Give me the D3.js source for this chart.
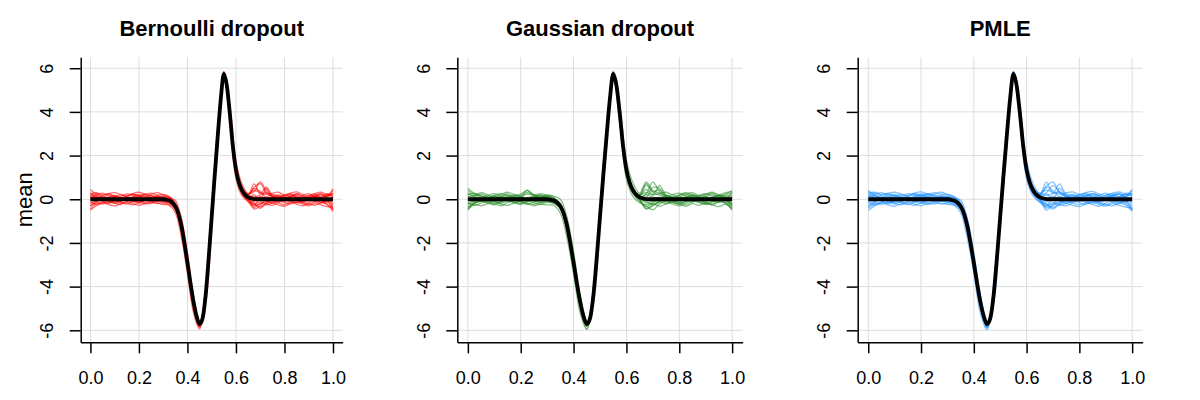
<!DOCTYPE html>
<html>
<head>
<meta charset="utf-8">
<script src="https://cdn.jsdelivr.net/npm/d3@7"></script>
<style>
  body { margin: 0; background: #fff; }
  svg { display: block; }
  text { font-family: "Liberation Sans", Arial, Helvetica, sans-serif; fill: #000; }
</style>
</head>
<body>
<svg id="chart" width="1200" height="400"></svg>
<script>
const xGrid = [0, 0.025, 0.05, 0.075, 0.1, 0.125, 0.15, 0.175, 0.2, 0.225, 0.25, 0.275, 0.3, 0.325, 0.35, 0.375, 0.4,
  0.425, 0.45, 0.475, 0.5, 0.525, 0.55, 0.575, 0.6, 0.625, 0.65, 0.675, 0.7, 0.725, 0.75, 0.775, 0.8, 0.825, 0.85,
  0.875, 0.9, 0.925, 0.95, 0.975, 1];

// black reference curve (same in all panels), finer in the middle
const truthX = [0, 0.3, 0.3125, 0.325, 0.3375, 0.35, 0.3625, 0.375, 0.3875, 0.4, 0.4125, 0.425, 0.4375, 0.45, 0.4625,
  0.475, 0.4875, 0.5, 0.5125, 0.525, 0.5375, 0.55, 0.5625, 0.575, 0.5875, 0.6, 0.6125, 0.625, 0.6375, 0.65, 0.6625,
  0.675, 0.7, 1];
const truthMean = [0, 0, -0.02, -0.06, -0.15, -0.32, -0.65, -1.2, -2.0, -2.9, -3.85, -4.7, -5.35, -5.72, -5.45,
  -4.4, -2.7, -0.8, 1.1, 2.9, 4.6, 5.74, 5.2, 3.9, 2.4, 1.35, 0.75, 0.4, 0.2, 0.09, 0.04,
  0.01, 0, 0];

const titles = ["Bernoulli dropout", "Gaussian dropout", "PMLE"];
const xTicks = [0, 0.2, 0.4, 0.6, 0.8, 1.0];
const xTickLabels = ["0.0", "0.2", "0.4", "0.6", "0.8", "1.0"];
const yTicks = [-6, -4, -2, 0, 2, 4, 6];
const yTickLabels = ["-6", "-4", "-2", "0", "2", "4", "6"];

const bernoulliSamples = [
  [0.30,0.12,0.05,0.10,0.18,0.08,0.02,0.10,0.15,0.05,0.08,0.14,0.06,-0.02,-0.28,-1.22,-2.86,-4.82,-5.85,-4.48,-0.88,2.84,5.82,3.96,1.38,0.48,0.22,0.55,0.72,0.28,0.12,0.16,0.06,0.10,0.18,0.08,0.04,0.12,0.20,0.14,0.42],
  [-0.45,-0.20,-0.12,-0.18,-0.08,-0.15,-0.22,-0.10,-0.05,-0.16,-0.20,-0.08,-0.12,-0.18,-0.42,-1.40,-3.00,-4.88,-5.78,-4.35,-0.72,2.98,5.70,3.82,1.22,0.30,-0.05,-0.30,-0.22,-0.10,-0.18,-0.06,-0.14,-0.20,-0.10,-0.16,-0.24,-0.12,-0.08,-0.22,-0.50],
  [0.10,0.20,0.28,0.15,0.05,0.12,0.25,0.18,0.06,0.14,0.22,0.30,0.20,0.10,-0.20,-1.15,-2.80,-4.72,-5.68,-4.42,-0.82,2.88,5.78,4.02,1.42,0.52,0.18,0.12,0.20,0.30,0.15,0.08,0.18,0.26,0.12,0.05,0.16,0.24,0.10,0.18,0.25],
  [-0.20,-0.05,0.05,-0.08,-0.15,-0.02,0.08,-0.04,-0.12,0.02,0.06,-0.06,-0.02,-0.10,-0.36,-1.32,-2.94,-4.84,-5.75,-4.38,-0.78,2.92,5.72,3.88,1.28,0.38,0.05,-0.45,-0.30,0.05,-0.06,0.04,-0.10,-0.02,0.06,-0.08,0.00,0.08,-0.06,0.04,-0.30],
  [0.45,0.22,0.10,0.02,0.10,0.20,0.12,0.04,0.10,0.22,0.15,0.05,0.10,0.06,-0.05,-0.85,-2.45,-4.40,-5.60,-4.75,-1.30,2.40,5.85,4.30,1.75,0.70,0.25,0.35,0.80,0.40,0.12,0.06,0.14,0.22,0.10,0.02,0.12,0.18,0.26,0.10,0.30],
  [-0.30,-0.15,-0.22,-0.10,-0.04,-0.12,-0.18,-0.26,-0.14,-0.06,-0.12,-0.20,-0.16,-0.26,-0.62,-1.75,-3.40,-5.20,-5.95,-4.00,-0.30,3.40,5.62,3.50,0.95,0.15,-0.10,-0.18,-0.35,-0.20,-0.10,-0.16,-0.24,-0.12,-0.06,-0.14,-0.20,-0.28,-0.16,-0.10,-0.45],
  [0.05,0.15,0.08,0.20,0.12,0.02,0.10,0.22,0.16,0.08,0.18,0.10,0.14,0.04,-0.22,-1.18,-2.84,-4.78,-5.74,-4.40,-0.80,2.90,5.80,3.98,1.36,0.46,0.20,0.70,0.25,0.55,0.18,0.10,0.20,0.12,0.24,0.16,0.08,0.14,0.06,0.20,0.10],
  [-0.10,-0.25,-0.14,-0.04,-0.16,-0.24,-0.10,-0.02,-0.12,-0.22,-0.14,-0.04,-0.08,-0.14,-0.38,-1.36,-2.96,-4.86,-5.80,-4.44,-0.82,2.88,5.68,3.84,1.24,0.34,-0.02,-0.22,-0.12,-0.20,-0.28,-0.14,-0.04,-0.12,-0.22,-0.30,-0.16,-0.06,-0.14,-0.24,-0.55],
  [0.20,0.08,-0.02,0.06,0.14,0.04,-0.04,0.06,0.12,0.22,0.10,0.02,0.06,-0.04,-0.30,-1.26,-2.88,-4.80,-5.72,-4.36,-0.76,2.96,5.74,3.90,1.30,0.42,0.12,0.05,0.12,0.02,0.10,0.20,0.12,0.02,0.08,0.16,0.26,0.10,0.04,0.12,0.48],
  [-0.50,-0.30,-0.18,-0.24,-0.30,-0.20,-0.12,-0.20,-0.28,-0.18,-0.10,-0.16,-0.24,-0.26,-0.48,-1.45,-3.05,-4.95,-5.88,-4.32,-0.70,3.00,5.62,3.78,1.18,0.26,-0.12,-0.38,-0.18,-0.26,-0.18,-0.26,-0.32,-0.20,-0.14,-0.22,-0.30,-0.20,-0.26,-0.34,-0.35],
  [0.25,0.30,0.20,0.26,0.30,0.22,0.14,0.26,0.32,0.24,0.28,0.20,0.22,0.12,-0.16,-1.10,-2.76,-4.70,-5.66,-4.46,-0.86,2.82,5.84,4.04,1.44,0.56,0.26,0.40,0.30,0.22,0.28,0.32,0.20,0.28,0.34,0.22,0.16,0.26,0.32,0.22,0.15],
  [0.00,-0.10,0.04,-0.02,0.06,-0.08,0.02,-0.06,0.04,-0.04,0.02,0.08,0.00,-0.06,-0.32,-1.28,-2.92,-4.82,-5.76,-4.42,-0.78,2.90,5.76,3.90,1.32,0.40,0.08,-0.10,0.02,0.08,-0.04,0.02,-0.06,0.06,-0.02,0.04,-0.06,0.02,0.06,-0.04,0.05],
  [0.18,0.26,0.14,0.04,-0.06,0.04,0.16,0.24,0.12,0.00,-0.04,0.10,0.04,-0.08,-0.34,-1.30,-2.90,-4.80,-5.74,-4.40,-0.80,2.90,5.76,3.90,1.36,0.42,0.10,0.20,-0.05,0.48,0.10,-0.04,0.06,0.16,0.04,-0.06,0.02,0.14,0.22,0.08,-0.20],
  [-0.32,-0.10,0.02,-0.10,-0.20,-0.08,0.04,-0.08,-0.18,-0.06,0.04,-0.04,-0.10,-0.16,-0.40,-1.36,-2.96,-4.86,-5.82,-4.44,-0.84,2.86,5.70,3.86,1.26,0.34,0.00,-0.28,0.10,-0.08,-0.14,-0.04,0.06,-0.06,-0.16,-0.08,0.02,-0.10,-0.18,-0.06,-0.42],
  [0.12,0.04,0.16,0.24,0.14,0.06,0.00,0.12,0.22,0.14,0.06,0.16,0.12,0.04,-0.24,-1.22,-2.84,-4.78,-5.70,-4.36,-0.76,2.94,5.80,3.94,1.40,0.46,0.18,0.50,0.35,0.10,0.22,0.12,0.04,0.14,0.24,0.14,0.06,0.16,0.10,0.26,0.20],
  [-0.05,0.06,-0.08,-0.16,-0.06,0.06,-0.02,-0.12,-0.04,0.08,-0.02,-0.10,-0.04,-0.12,-0.36,-1.34,-2.94,-4.84,-5.78,-4.42,-0.82,2.88,5.72,3.88,1.28,0.36,0.02,-0.20,-0.42,-0.16,-0.04,-0.12,-0.04,0.06,-0.04,-0.12,-0.06,0.04,-0.06,-0.14,0.10]
];

const gaussianSamples = [
  [-0.40,-0.18,-0.08,-0.14,-0.22,-0.10,-0.02,-0.12,-0.20,-0.08,-0.16,-0.24,-0.14,-0.18,-0.40,-1.38,-2.98,-4.86,-5.82,-4.46,-0.80,2.90,5.70,3.86,1.26,0.34,0.00,-0.42,-0.25,-0.12,-0.20,-0.08,-0.16,-0.24,-0.12,-0.04,-0.14,-0.22,-0.10,-0.18,-0.45],
  [0.40,0.20,0.10,0.18,0.26,0.14,0.06,0.16,0.24,0.40,0.18,0.10,0.16,0.06,-0.22,-1.20,-2.82,-4.76,-5.70,-4.42,-0.84,2.86,5.82,3.98,1.38,0.50,0.20,0.65,0.30,0.20,0.12,0.22,0.28,0.16,0.08,0.18,0.26,0.14,0.20,0.30,0.35],
  [0.05,-0.08,0.02,0.10,0.00,-0.10,0.04,0.12,0.02,-0.06,0.06,0.14,0.04,-0.04,-0.30,-1.26,-2.90,-4.82,-5.76,-4.40,-0.78,2.92,5.74,3.92,1.30,0.40,0.10,0.25,0.78,0.35,0.05,-0.04,0.08,0.00,-0.08,0.04,0.12,0.02,-0.06,0.04,-0.20],
  [-0.15,-0.28,-0.18,-0.08,-0.20,-0.30,-0.16,-0.06,-0.14,-0.24,-0.12,-0.04,-0.10,-0.18,-0.42,-1.40,-3.00,-4.90,-5.94,-4.48,-0.74,2.96,5.64,3.80,1.20,0.28,-0.10,-0.30,-0.48,-0.22,-0.12,-0.22,-0.30,-0.16,-0.06,-0.16,-0.24,-0.14,-0.08,-0.18,-0.40],
  [0.20,0.28,0.16,0.08,0.18,0.26,0.14,0.08,0.20,0.30,0.22,0.12,0.20,0.14,0.00,-0.82,-2.42,-4.38,-5.58,-4.74,-1.28,2.42,5.88,4.32,1.78,0.74,0.28,0.80,0.40,0.28,0.18,0.10,0.20,0.30,0.22,0.12,0.20,0.28,0.16,0.24,0.40],
  [-0.50,-0.24,-0.30,-0.20,-0.12,-0.22,-0.28,-0.18,-0.10,-0.20,-0.30,-0.22,-0.26,-0.28,-0.64,-1.78,-3.42,-5.22,-5.96,-4.02,-0.28,3.42,5.60,3.48,0.92,0.12,-0.16,-0.24,-0.20,-0.32,-0.22,-0.14,-0.24,-0.32,-0.20,-0.28,-0.18,-0.26,-0.34,-0.22,-0.50],
  [0.25,0.10,0.02,0.08,0.02,0.10,0.18,0.08,0.00,0.06,0.14,0.05,0.08,0.00,-0.26,-1.22,-2.86,-4.80,-5.74,-4.38,-0.80,2.90,5.76,3.94,1.34,0.44,0.14,0.10,0.55,0.50,0.12,0.04,-0.02,0.08,0.16,0.06,-0.02,0.06,0.14,0.04,0.30],
  [-0.25,-0.12,-0.04,-0.10,-0.04,0.04,-0.06,-0.14,-0.06,0.02,-0.08,-0.16,-0.06,-0.12,-0.36,-1.34,-2.94,-4.84,-5.78,-4.42,-0.78,2.90,5.72,3.88,1.28,0.36,0.02,-0.15,-0.10,-0.02,-0.10,-0.04,0.04,-0.06,-0.12,-0.04,0.04,-0.08,-0.14,-0.06,-0.25],
  [0.10,0.18,0.30,0.20,0.12,0.22,0.32,0.22,0.14,0.24,0.18,0.26,0.18,0.08,-0.20,-1.16,-2.80,-4.74,-5.70,-4.44,-0.82,2.88,5.80,4.00,1.40,0.48,0.22,0.30,0.20,0.26,0.32,0.20,0.12,0.22,0.30,0.18,0.24,0.32,0.20,0.14,0.20],
  [-0.35,-0.16,-0.08,-0.02,-0.10,-0.18,-0.08,0.00,-0.10,-0.18,-0.24,-0.12,-0.04,-0.10,-0.34,-1.32,-2.92,-4.84,-5.80,-4.40,-0.76,2.94,5.68,3.84,1.24,0.32,-0.04,-0.35,-0.15,-0.06,0.00,-0.10,-0.18,-0.08,-0.02,-0.10,-0.18,-0.26,-0.12,-0.04,-0.35],
  [0.50,0.26,0.14,0.06,0.14,0.06,0.12,0.20,0.12,0.04,0.10,0.18,0.10,0.02,-0.24,-1.24,-2.88,-4.78,-5.72,-4.40,-0.82,2.88,5.78,3.96,1.34,0.46,0.16,0.45,0.20,0.62,0.20,0.10,0.04,0.12,0.20,0.12,0.04,0.10,0.18,0.10,0.10],
  [0.00,0.06,-0.04,0.04,0.10,0.02,-0.06,0.02,0.08,-0.02,0.04,0.00,0.02,-0.06,-0.32,-1.30,-2.92,-4.82,-5.76,-4.40,-0.78,2.90,5.74,3.90,1.30,0.40,0.06,-0.05,0.02,0.10,0.02,-0.04,0.06,0.02,-0.04,0.04,0.10,0.00,0.04,0.08,0.00],
  [0.30,0.14,0.24,0.10,0.02,0.14,0.24,0.12,0.04,0.42,0.16,0.06,0.14,0.04,-0.24,-1.22,-2.84,-4.78,-5.72,-4.38,-0.78,2.92,5.78,3.92,1.38,0.46,0.18,0.72,0.35,0.42,0.16,0.08,0.18,0.26,0.12,0.04,0.14,0.22,0.08,0.18,0.30],
  [-0.45,-0.20,-0.10,-0.18,-0.26,-0.14,-0.06,-0.16,-0.24,-0.12,-0.04,-0.14,-0.10,-0.16,-0.40,-1.36,-2.96,-4.86,-5.80,-4.42,-0.84,2.86,5.70,3.86,1.26,0.34,-0.02,-0.45,-0.30,-0.14,-0.06,-0.14,-0.22,-0.10,-0.02,-0.12,-0.20,-0.10,-0.02,-0.12,-0.30],
  [0.15,0.02,-0.06,0.06,0.14,0.06,-0.04,0.04,0.12,0.02,0.10,0.20,0.08,-0.02,-0.28,-1.26,-2.88,-4.80,-5.74,-4.40,-0.80,2.90,5.76,3.90,1.32,0.40,0.10,0.20,0.10,0.04,0.14,0.06,-0.02,0.08,0.16,0.06,-0.02,0.08,0.16,0.06,0.15],
  [-0.20,-0.04,0.06,-0.04,-0.12,-0.04,0.06,-0.02,-0.10,0.00,0.06,-0.04,-0.06,-0.12,-0.36,-1.32,-2.94,-4.84,-5.78,-4.40,-0.80,2.90,5.72,3.88,1.28,0.36,0.02,-0.10,-0.25,-0.10,0.04,-0.04,-0.12,-0.02,0.06,-0.04,-0.12,-0.02,0.06,-0.04,-0.20]
];

const pmleSamples = [
  [0.35,0.14,0.06,0.14,0.22,0.12,0.04,0.12,0.20,0.10,0.04,0.12,0.08,0.00,-0.28,-1.24,-2.86,-4.80,-5.84,-4.46,-0.86,2.86,5.84,3.98,1.38,0.48,0.20,0.60,0.78,0.30,0.12,0.18,0.08,0.12,0.20,0.10,0.04,0.14,0.22,0.12,0.40],
  [-0.40,-0.22,-0.12,-0.20,-0.10,-0.16,-0.24,-0.12,-0.06,-0.18,-0.22,-0.10,-0.14,-0.20,-0.44,-1.42,-3.02,-4.90,-5.90,-4.48,-0.74,2.96,5.66,3.82,1.22,0.30,-0.06,-0.40,-0.28,-0.12,-0.18,-0.08,-0.16,-0.22,-0.10,-0.18,-0.26,-0.14,-0.08,-0.20,-0.48],
  [0.12,0.22,0.30,0.16,0.06,0.14,0.26,0.18,0.08,0.16,0.24,0.32,0.22,0.12,-0.18,-1.14,-2.78,-4.72,-5.68,-4.44,-0.84,2.86,5.80,4.02,1.42,0.52,0.22,0.18,0.26,0.32,0.16,0.08,0.20,0.28,0.14,0.06,0.18,0.26,0.12,0.20,0.28],
  [-0.18,-0.04,0.06,-0.06,-0.14,-0.02,0.08,-0.02,-0.10,0.02,0.08,-0.04,-0.02,-0.10,-0.36,-1.32,-2.94,-4.84,-5.76,-4.38,-0.78,2.92,5.72,3.88,1.28,0.38,0.04,-0.50,-0.26,0.04,-0.06,0.04,-0.10,-0.02,0.06,-0.08,0.00,0.08,-0.06,0.04,-0.30],
  [0.40,0.20,0.08,0.02,0.12,0.22,0.12,0.04,0.12,0.24,0.16,0.06,0.10,0.06,-0.04,-0.84,-2.44,-4.40,-5.60,-4.76,-1.30,2.40,5.86,4.30,1.76,0.72,0.24,0.30,0.62,0.35,0.12,0.06,0.14,0.22,0.10,0.02,0.12,0.20,0.28,0.12,0.25],
  [-0.28,-0.16,-0.24,-0.12,-0.04,-0.12,-0.20,-0.28,-0.16,-0.06,-0.14,-0.22,-0.16,-0.26,-0.62,-1.76,-3.40,-5.22,-5.98,-4.00,-0.30,3.40,5.62,3.48,0.94,0.14,-0.12,-0.22,-0.38,-0.22,-0.10,-0.18,-0.26,-0.14,-0.06,-0.16,-0.22,-0.30,-0.18,-0.10,-0.50],
  [0.05,0.16,0.08,0.22,0.14,0.04,0.12,0.24,0.18,0.08,0.20,0.10,0.14,0.04,-0.22,-1.18,-2.84,-4.78,-5.74,-4.40,-0.80,2.90,5.82,3.98,1.36,0.46,0.22,0.78,0.28,0.70,0.20,0.10,0.22,0.14,0.26,0.16,0.08,0.16,0.06,0.22,0.12],
  [-0.10,-0.26,-0.14,-0.04,-0.18,-0.26,-0.12,-0.02,-0.14,-0.24,-0.14,-0.04,-0.08,-0.14,-0.38,-1.36,-2.96,-4.86,-5.80,-4.44,-0.82,2.88,5.70,3.84,1.24,0.34,-0.02,-0.26,-0.14,-0.22,-0.30,-0.16,-0.04,-0.14,-0.24,-0.32,-0.18,-0.06,-0.16,-0.26,-0.55],
  [0.22,0.08,-0.02,0.08,0.16,0.04,-0.04,0.08,0.14,0.26,0.12,0.02,0.06,-0.04,-0.30,-1.26,-2.88,-4.80,-5.72,-4.36,-0.76,2.96,5.74,3.90,1.30,0.42,0.12,0.04,0.14,0.02,0.12,0.22,0.12,0.02,0.10,0.18,0.28,0.12,0.04,0.14,0.45],
  [-0.50,-0.30,-0.18,-0.26,-0.32,-0.20,-0.12,-0.22,-0.30,-0.18,-0.10,-0.18,-0.24,-0.26,-0.48,-1.46,-3.06,-4.96,-5.88,-4.32,-0.70,3.00,5.62,3.78,1.18,0.26,-0.14,-0.34,-0.20,-0.28,-0.20,-0.28,-0.34,-0.22,-0.14,-0.24,-0.32,-0.20,-0.28,-0.36,-0.40],
  [0.28,0.32,0.22,0.28,0.32,0.24,0.14,0.28,0.34,0.24,0.30,0.22,0.22,0.12,-0.16,-1.10,-2.76,-4.70,-5.66,-4.46,-0.86,2.82,5.86,4.04,1.44,0.56,0.28,0.42,0.32,0.24,0.30,0.34,0.22,0.30,0.36,0.24,0.18,0.28,0.34,0.24,0.20],
  [0.00,-0.10,0.04,-0.02,0.06,-0.08,0.02,-0.06,0.04,-0.04,0.02,0.08,0.00,-0.06,-0.32,-1.28,-2.92,-4.82,-5.76,-4.42,-0.78,2.90,5.76,3.90,1.32,0.40,0.08,-0.12,0.04,0.10,-0.04,0.02,-0.06,0.06,-0.02,0.04,-0.06,0.02,0.06,-0.04,0.05],
  [0.20,0.28,0.16,0.06,-0.04,0.06,0.18,0.26,0.14,0.02,-0.02,0.12,0.06,-0.06,-0.32,-1.28,-2.90,-4.80,-5.74,-4.40,-0.80,2.90,5.78,3.92,1.36,0.42,0.12,0.25,0.00,0.50,0.12,-0.02,0.08,0.18,0.06,-0.04,0.04,0.16,0.24,0.10,-0.15],
  [-0.35,-0.12,0.00,-0.12,-0.22,-0.10,0.02,-0.10,-0.20,-0.08,0.02,-0.06,-0.10,-0.16,-0.40,-1.36,-2.96,-4.86,-5.84,-4.44,-0.84,2.86,5.70,3.86,1.26,0.34,-0.02,-0.30,0.08,-0.10,-0.16,-0.06,0.04,-0.08,-0.18,-0.10,0.00,-0.12,-0.20,-0.08,-0.45],
  [0.14,0.06,0.18,0.26,0.16,0.08,0.02,0.14,0.24,0.16,0.08,0.18,0.12,0.04,-0.24,-1.22,-2.84,-4.78,-5.70,-4.36,-0.76,2.94,5.82,3.94,1.40,0.46,0.20,0.55,0.40,0.12,0.24,0.14,0.06,0.16,0.26,0.16,0.08,0.18,0.12,0.28,0.22],
  [-0.06,0.06,-0.08,-0.18,-0.08,0.06,-0.02,-0.12,-0.04,0.08,-0.02,-0.10,-0.04,-0.12,-0.36,-1.34,-2.94,-4.84,-5.78,-4.42,-0.82,2.88,5.72,3.88,1.28,0.36,0.02,-0.22,-0.45,-0.18,-0.04,-0.12,-0.04,0.06,-0.04,-0.12,-0.06,0.04,-0.06,-0.14,0.10]
];

const sampleSets = [bernoulliSamples, gaussianSamples, pmleSamples];
const sampleColors = ["#ff0000", "#228b22", "#1e90ff"];

// layout
const panelLeft = [80.7, 457.3, 857.7];
const panelRight = [342.7, 742.7, 1142.7];
const plotTop = 57.3, plotBottom = 342.3;

const svg = d3.select("#chart");

titles.forEach((title, p) => {
  const x = d3.scaleLinear().domain([-0.04, 1.04]).range([panelLeft[p], panelRight[p]]);
  const y = d3.scaleLinear().domain([-6.55, 6.5]).range([plotBottom, plotTop]);
  const g = svg.append("g");

  // light grid
  g.append("g").selectAll("line")
    .data(xTicks).enter().append("line")
    .attr("x1", d => x(d)).attr("x2", d => x(d))
    .attr("y1", plotTop).attr("y2", plotBottom)
    .attr("stroke", "#dddddd").attr("stroke-width", 1);
  g.append("g").selectAll("line")
    .data(yTicks).enter().append("line")
    .attr("x1", panelLeft[p]).attr("x2", panelRight[p])
    .attr("y1", d => y(d)).attr("y2", d => y(d))
    .attr("stroke", "#dddddd").attr("stroke-width", 1);

  const sampleLine = d3.line()
    .x((d, i) => x(xGrid[i]))
    .y(d => y(d))
    .curve(d3.curveCatmullRom.alpha(0.5));

  // sampled curves
  g.append("g").selectAll("path")
    .data(sampleSets[p]).enter().append("path")
    .attr("d", sampleLine)
    .attr("fill", "none")
    .attr("stroke", sampleColors[p])
    .attr("stroke-opacity", 0.55)
    .attr("stroke-width", 1.3);

  // true mean
  const truthLine = d3.line()
    .x((d, i) => x(truthX[i]))
    .y(d => y(d))
    .curve(d3.curveMonotoneX);
  g.append("path")
    .attr("d", truthLine(truthMean))
    .attr("fill", "none")
    .attr("stroke", "#000")
    .attr("stroke-width", 3.8)
    .attr("stroke-linejoin", "round");

  // axes
  const xAxis = g.append("g")
    .attr("transform", `translate(0,${plotBottom})`)
    .call(d3.axisBottom(x).tickValues(xTicks).tickFormat((d, i) => xTickLabels[i]).tickSize(11).tickSizeOuter(0));
  xAxis.selectAll("text").attr("y", 41.7).attr("dy", 0).style("font-size", "18px");

  const yAxis = g.append("g")
    .attr("transform", `translate(${panelLeft[p]},0)`)
    .call(d3.axisLeft(y).tickValues(yTicks).tickFormat((d, i) => yTickLabels[i]).tickSize(11).tickSizeOuter(0));
  yAxis.selectAll("text")
    .attr("transform", "rotate(-90)")
    .attr("x", 0).attr("y", -27.4).attr("dy", 0)
    .attr("text-anchor", "middle")
    .style("font-size", "18px");

  [xAxis, yAxis].forEach(a => {
    a.select(".domain").attr("stroke", "#000").attr("stroke-width", 1.5);
    a.selectAll(".tick line").attr("stroke", "#000").attr("stroke-width", 1.5);
    a.attr("font-family", null);
  });

  g.append("text")
    .attr("x", (panelLeft[p] + panelRight[p]) / 2)
    .attr("y", 36)
    .attr("text-anchor", "middle")
    .style("font-size", "22px")
    .style("font-weight", "bold")
    .text(title);
});

svg.append("text")
  .attr("transform", `translate(31.7,${(plotTop + plotBottom) / 2}) rotate(-90)`)
  .attr("text-anchor", "middle")
  .style("font-size", "22px")
  .text("mean");
</script>
</body>
</html>
